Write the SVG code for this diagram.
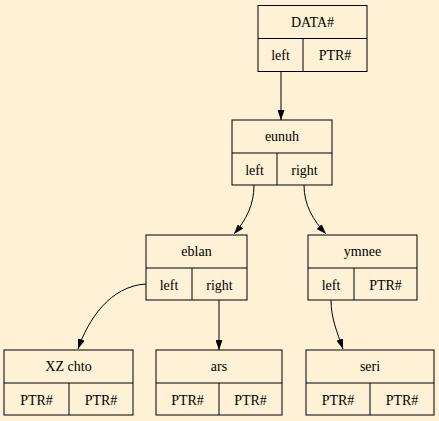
<svg xmlns="http://www.w3.org/2000/svg" width="439" height="421" viewBox="0 0 439 421">
<style>
.box{fill:none;stroke:#000;stroke-width:1}
text{font-family:'Liberation Serif','Times New Roman',serif;font-size:14px;text-anchor:middle;fill:#000}
.e{fill:none;stroke:#000;stroke-width:1}
</style>
<defs>
<marker id="ah" markerUnits="userSpaceOnUse" markerWidth="10" markerHeight="7" refX="10" refY="3.5" orient="auto">
<path d="M0,0 L10,3.5 L0,7 z" fill="#000"/>
</marker>
</defs>
<rect width="439" height="421" fill="#fef1d5"/>
<g id="connectors">
<path class="e" marker-end="url(#ah)" d="M281,72 L281,120"/>
<path class="e" marker-end="url(#ah)" d="M254,185 C254,205 246,220 234,234"/>
<path class="e" marker-end="url(#ah)" d="M304,185 C304,205 313,220 326,234"/>
<path class="e" marker-end="url(#ah)" d="M146,284 C110,286 88,320 78,349"/>
<path class="e" marker-end="url(#ah)" d="M219,300 L219,350"/>
<path class="e" marker-end="url(#ah)" d="M331,300 C331,318 337,332 343,349"/>
</g>
<g id="n_data">
<rect class="box" x="258" y="5.5" width="109" height="66"/>
<path class="box" d="M258,38.5 H367 M303,38.5 V71.5"/>
<text x="312.5" y="27">DATA#</text>
<text x="280.5" y="60">left</text>
<text x="335" y="60">PTR#</text>
</g>
<g id="n_eunuh">
<rect class="box" x="232" y="120" width="100" height="65"/>
<path class="box" d="M232,153 H332 M277,153 V185"/>
<text x="282" y="141">eunuh</text>
<text x="254.5" y="175">left</text>
<text x="304.5" y="175">right</text>
</g>
<g id="n_eblan">
<rect class="box" x="146" y="235" width="101" height="65"/>
<path class="box" d="M146,268 H247 M192,268 V300"/>
<text x="196.5" y="256">eblan</text>
<text x="169" y="290">left</text>
<text x="219.5" y="290">right</text>
</g>
<g id="n_ymnee">
<rect class="box" x="308" y="235" width="109" height="65"/>
<path class="box" d="M308,268 H417 M354,268 V300"/>
<text x="362.5" y="256">ymnee</text>
<text x="331" y="290">left</text>
<text x="385.5" y="290">PTR#</text>
</g>
<g id="n_xz">
<rect class="box" x="4" y="350" width="129" height="65"/>
<path class="box" d="M4,383 H133 M69,383 V415"/>
<text x="68.5" y="371">XZ chto</text>
<text x="36.5" y="405">PTR#</text>
<text x="101" y="405">PTR#</text>
</g>
<g id="n_ars">
<rect class="box" x="156" y="350" width="126" height="65"/>
<path class="box" d="M156,383 H282 M219,383 V415"/>
<text x="219" y="371">ars</text>
<text x="187.5" y="405">PTR#</text>
<text x="250.5" y="405">PTR#</text>
</g>
<g id="n_seri">
<rect class="box" x="306" y="350" width="128" height="65"/>
<path class="box" d="M306,383 H434 M370,383 V415"/>
<text x="370" y="371">seri</text>
<text x="338" y="405">PTR#</text>
<text x="402" y="405">PTR#</text>
</g>
</svg>
